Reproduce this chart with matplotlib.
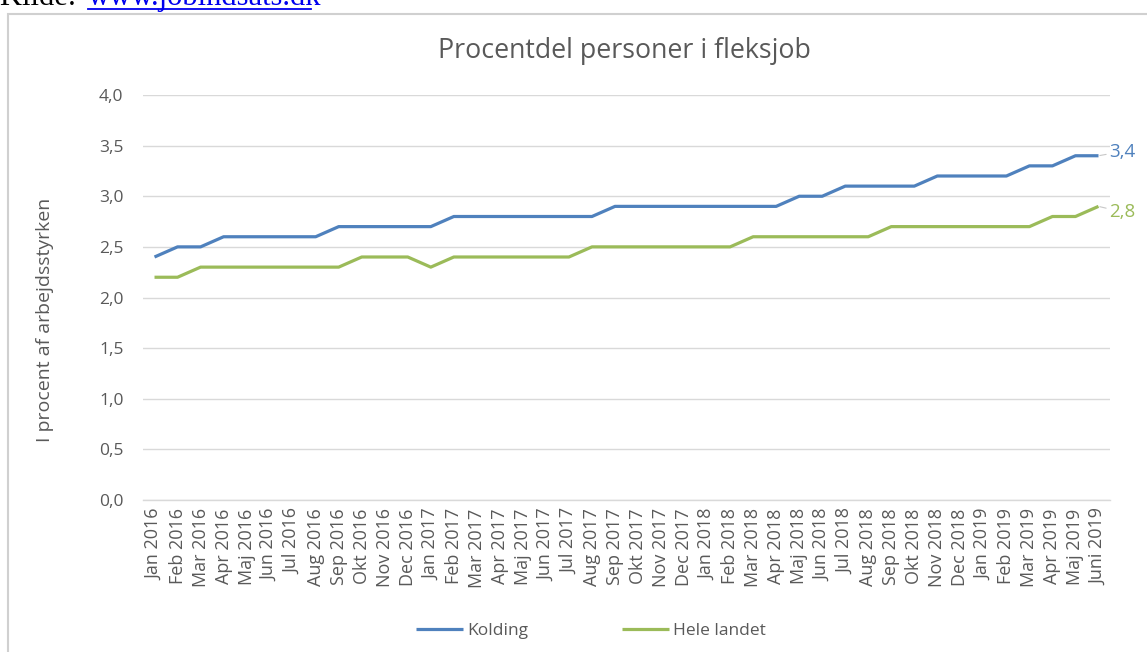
import matplotlib
matplotlib.use("Agg")
import matplotlib.pyplot as plt
from matplotlib.patches import Rectangle
from matplotlib.lines import Line2D

months = ["Jan 2016", "Feb 2016", "Mar 2016", "Apr 2016", "Maj 2016", "Jun 2016", "Jul 2016",
          "Aug 2016", "Sep 2016", "Okt 2016", "Nov 2016", "Dec 2016",
          "Jan 2017", "Feb 2017", "Mar 2017", "Apr 2017", "Maj 2017", "Jun 2017", "Jul 2017",
          "Aug 2017", "Sep 2017", "Okt 2017", "Nov 2017", "Dec 2017",
          "Jan 2018", "Feb 2018", "Mar 2018", "Apr 2018", "Maj 2018", "Jun 2018", "Jul 2018",
          "Aug 2018", "Sep 2018", "Okt 2018", "Nov 2018", "Dec 2018",
          "Jan 2019", "Feb 2019", "Mar 2019", "Apr 2019", "Maj 2019", "Juni 2019"]

kolding = [2.4, 2.5, 2.5, 2.6, 2.6, 2.6, 2.6, 2.6, 2.7, 2.7, 2.7, 2.7,
           2.7, 2.8, 2.8, 2.8, 2.8, 2.8, 2.8, 2.8, 2.9, 2.9, 2.9, 2.9,
           2.9, 2.9, 2.9, 2.9, 3.0, 3.0, 3.1, 3.1, 3.1, 3.1, 3.2, 3.2,
           3.2, 3.2, 3.3, 3.3, 3.4, 3.4]

hele_landet = [2.2, 2.2, 2.3, 2.3, 2.3, 2.3, 2.3, 2.3, 2.3, 2.4, 2.4, 2.4,
               2.3, 2.4, 2.4, 2.4, 2.4, 2.4, 2.4, 2.5, 2.5, 2.5, 2.5, 2.5,
               2.5, 2.5, 2.6, 2.6, 2.6, 2.6, 2.6, 2.6, 2.7, 2.7, 2.7, 2.7,
               2.7, 2.7, 2.7, 2.8, 2.8, 2.9]

series_names = ["Kolding", "Hele landet"]
end_labels = ["3,4", "2,8"]
yticks = [0.0, 0.5, 1.0, 1.5, 2.0, 2.5, 3.0, 3.5, 4.0]
title = "Procentdel personer i fleksjob"
ylabel = "I procent af arbejdsstyrken"

plt.rcParams['font.family'] = ['Open Sans', 'DejaVu Sans']
GRAY = '#595959'
GRID = '#d9d9d9'
BLUE = '#4F81BD'
GREEN = '#9BBB59'

W, H = 1147, 652
fig = plt.figure(figsize=(W / 100, H / 100), dpi=100)
fig.patch.set_facecolor('white')

# chart frame
fig.patches.append(Rectangle((8 / W, -0.05), 1.1, 1 - 14 / H + 0.05, transform=fig.transFigure,
                             fill=False, edgecolor='#d0d0d0', linewidth=1.5))

# source text at the very top (partly cut off, as in the reference)
fig.text(0 / W, 1 - 5 / H, "Kilde: ", family='Liberation Serif', fontsize=22, color='black',
         ha='left', va='baseline')
fig.text(88 / W, 1 - 5 / H, "www.jobindsats.dk", family='Liberation Serif', fontsize=22,
         color='#0000EE', ha='left', va='baseline')
fig.lines.append(Line2D([88 / W, 311 / W], [1 - 9 / H, 1 - 9 / H], transform=fig.transFigure,
                        color='#0000EE', linewidth=1.3))

ax = fig.add_axes([143 / W, 1 - 500 / H, 967 / W, 405 / H])
x = list(range(len(months)))
ax.plot(x, kolding, color=BLUE, linewidth=2.3, solid_capstyle='butt', label=series_names[0], zorder=3)
ax.plot(x, hele_landet, color=GREEN, linewidth=2.3, solid_capstyle='butt', label=series_names[1], zorder=3)

ax.set_xlim(-0.5, len(months) - 0.5)
ax.set_ylim(0, 4.0)
ax.set_yticks(yticks)
ax.set_yticklabels([f"{v:.1f}".replace('.', ',') for v in yticks], color=GRAY, fontsize=12.5)
ax.set_xticks(x)
ax.set_xticklabels(months, rotation=90, color=GRAY, fontsize=13)
ax.tick_params(axis='both', length=0)
ax.tick_params(axis='y', pad=14)
ax.tick_params(axis='x', pad=6)
ax.grid(axis='y', color=GRID, linewidth=1.0, zorder=0)
for s in ['top', 'right', 'left']:
    ax.spines[s].set_visible(False)
ax.spines['bottom'].set_color(GRID)
ax.spines['bottom'].set_linewidth(1.0)

# end data labels
ax.annotate(end_labels[0], xy=(x[-1], kolding[-1]), xytext=(7.5, 3), textcoords='offset points',
            color=BLUE, fontsize=13.5, ha='left', va='center',
            arrowprops=dict(arrowstyle='-', color='#c8c8c8', linewidth=0.8, shrinkA=0, shrinkB=1))
ax.annotate(end_labels[1], xy=(x[-1], hele_landet[-1]), xytext=(7.5, -4), textcoords='offset points',
            color=GREEN, fontsize=13.5, ha='left', va='center',
            arrowprops=dict(arrowstyle='-', color='#c8c8c8', linewidth=0.8, shrinkA=0, shrinkB=1))

fig.text(624 / W, 1 - 51 / H, title, color=GRAY, fontsize=19.3, ha='center', va='center')
fig.text(45 / W, 1 - 320 / H, ylabel, color=GRAY, fontsize=14, rotation=90, ha='center', va='center')

fig.legend(loc='center', bbox_to_anchor=(591 / W, 1 - 631 / H), ncol=2, frameon=False,
           fontsize=12.5, labelcolor=GRAY, handlelength=2.7, handletextpad=0.25, columnspacing=5.4)

fig.savefig('out.png', dpi=100)
